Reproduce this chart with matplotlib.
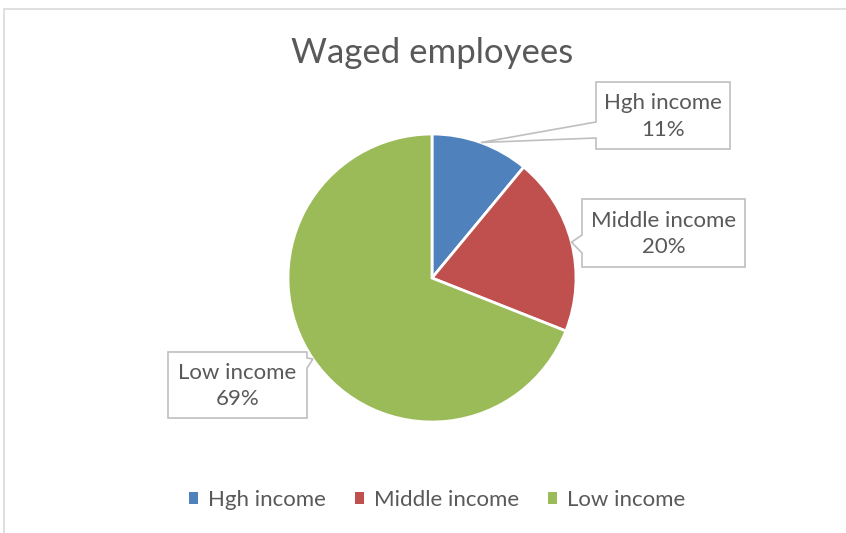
import numpy as np
import matplotlib
matplotlib.use("Agg")
import matplotlib.pyplot as plt
from matplotlib.patches import Polygon, Rectangle, Patch

W, H = 846, 533

categories = ["Hgh income", "Middle income", "Low income"]
values = [11, 20, 69]
colors = ["#4F81BD", "#C0504D", "#9BBB59"]
title = "Waged employees"

plt.rcParams['font.family'] = ['Lato', 'DejaVu Sans']
text_col = "#595959"

fig = plt.figure(figsize=(W / 100, H / 100), dpi=100)
ax = fig.add_axes([0, 0, 1, 1])

# pie center / radius in pixel units (y flipped)
cx, cy, r = 432, H - 278, 144
wedges, _ = ax.pie(values, colors=colors, startangle=90, counterclock=False,
                   center=(cx, cy), radius=r,
                   wedgeprops=dict(edgecolor="white", linewidth=2))
ax.set_xlim(0, W)
ax.set_ylim(0, H)
ax.set_aspect("equal")
ax.axis("off")

# outer chart frame
ax.add_patch(Rectangle((4, -20), W + 20, H - 9 + 20, fill=False,
                       edgecolor="#d9d9d9", linewidth=1.2, clip_on=False))

ax.text(cx, H - 53, title, ha="center", va="center", fontsize=25, color=text_col)

# callout boxes: (left, top, right, bottom) in pixels, side of pointer, base y range
boxes = [
    ((596, 82, 730, 149), "left", (122, 138)),
    ((582, 199, 745, 267), "left", (235, 253)),
    ((168, 352, 307, 418), "right", (358, 368)),
]

total = sum(values)
for (box, side, base), cat, v, w in zip(boxes, categories, values, wedges):
    mid = np.deg2rad((w.theta1 + w.theta2) / 2)
    tip = (cx + r * np.cos(mid), cy + r * np.sin(mid))
    x0, y0, x1, y1 = box
    if side == "left":
        pts = [(x0, H - y0), (x1, H - y0), (x1, H - y1), (x0, H - y1),
               (x0, H - base[1]), tip, (x0, H - base[0])]
    else:
        pts = [(x0, H - y0), (x1, H - y0), (x1, H - base[0]), tip,
               (x1, H - base[1]), (x1, H - y1), (x0, H - y1)]
    ax.add_patch(Polygon(pts, closed=True, facecolor="white",
                         edgecolor="#bfbfbf", linewidth=1.2, zorder=5))
    xm = (x0 + x1) / 2
    ax.text(xm, H - (y0 + y1) / 2 - 1, "%s\n%d%%" % (cat, round(v * 100 / total)),
            ha="center", va="center", fontsize=16, color=text_col,
            linespacing=1.4, zorder=6)

handles = [Patch(facecolor=c, edgecolor="none") for c in colors]
fig.legend(handles, categories, loc="center", bbox_to_anchor=(437 / W, 1 - 500 / H),
           ncol=3, frameon=False, fontsize=16, labelcolor=text_col,
           handlelength=0.4, handleheight=0.4, handletextpad=0.45, columnspacing=1.3)

fig.savefig("out.png", dpi=100)
